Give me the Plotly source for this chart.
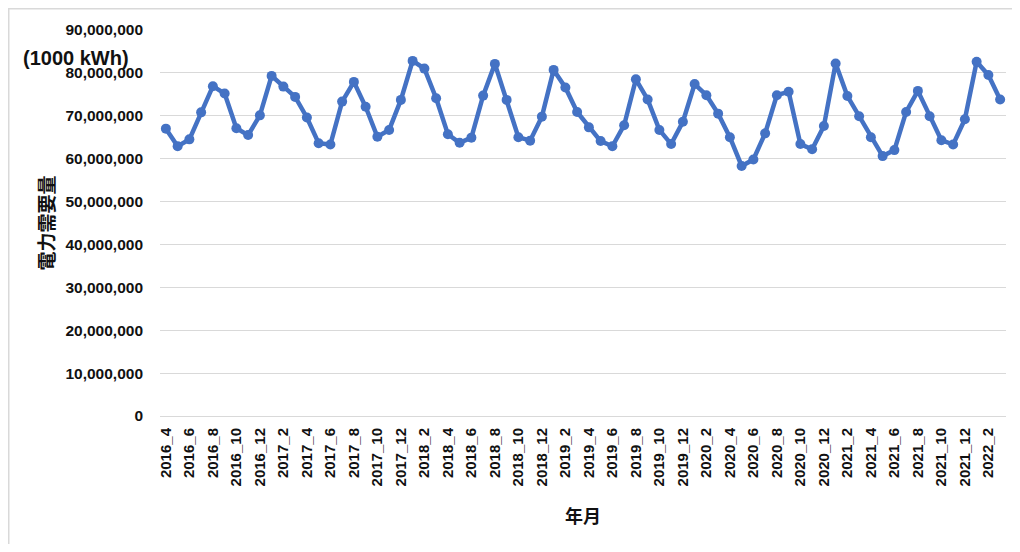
import plotly.graph_objects as go

# Categories: year_month from 2016_4 to 2022_3
years = [2016] * 9 + [2017] * 12 + [2018] * 12 + [2019] * 12 + [2020] * 12 + [2021] * 12 + [2022] * 3
months = list(range(4, 13)) + list(range(1, 13)) * 5 + [1, 2, 3]
categories = [f"{y}_{m}" for y, m in zip(years, months)]

# Electricity demand (1000 kWh)
demand = [
    67.0, 62.9, 64.5, 70.8, 76.9, 75.2, 67.1, 65.5, 70.1,
    79.3, 76.8, 74.4, 69.6, 63.6, 63.3, 73.3, 77.9, 72.1, 65.1, 66.7, 73.7,
    82.8, 81.0, 74.1, 65.7, 63.7, 64.9, 74.7, 82.1, 73.7, 65.0, 64.2, 69.8,
    80.7, 76.6, 70.9, 67.3, 64.1, 62.9, 67.8, 78.5, 73.8, 66.7, 63.4, 68.6,
    77.4, 74.8, 70.5, 65.0, 58.3, 59.8, 65.9, 74.8, 75.6, 63.4, 62.2, 67.6,
    82.2, 74.6, 69.9, 65.0, 60.6, 62.0, 70.9, 75.8, 69.9, 64.3, 63.3, 69.2,
    82.6, 79.5, 73.8,
]
demand = [v * 1_000_000 for v in demand]

tick_labels = categories[::2]
y_ticks = list(range(0, 90_000_001, 10_000_000))

FONT = "Liberation Sans, Arial, sans-serif"
CJK = "Noto Sans CJK JP, sans-serif"
BLUE = "#4472C4"

fig = go.Figure()
fig.add_trace(go.Scatter(
    x=categories, y=demand, mode="lines+markers",
    line=dict(color=BLUE, width=4.5),
    marker=dict(color=BLUE, size=10),
    showlegend=False,
))

# figure is placed at an 8px page offset
W, H = 1004, 536
L, T = 152, 22
R = W - 998
B = H - 408
pw, ph = W - L - R, H - T - B

def px_x(x):
    return (x - L) / pw

def px_y(y):
    return (H - B - y) / ph

fig.update_layout(
    width=W, height=H,
    margin=dict(l=L, r=R, t=T, b=B),
    paper_bgcolor="white", plot_bgcolor="white",
    xaxis=dict(
        type="category",
        tickmode="array", tickvals=tick_labels, ticktext=tick_labels,
        tickangle=-90,
        tickfont=dict(family=FONT, size=15, color="#111111", weight="bold"),
        ticklabelstandoff=8,
        showgrid=False, showline=False, zeroline=False, ticks="",
        title=dict(text="年月", font=dict(family=CJK, size=18, color="#111111", weight="bold"), standoff=24),
        range=[-0.5, len(categories) - 0.5],
    ),
    yaxis=dict(
        range=[0, 90_000_000],
        tickmode="array", tickvals=y_ticks,
        tickformat=",d",
        tickfont=dict(family=FONT, size=15.5, color="#111111", weight="bold"),
        ticklabelstandoff=16,
        showgrid=True, gridcolor="#d9d9d9", gridwidth=1.3,
        zeroline=True, zerolinecolor="#d9d9d9", zerolinewidth=1.3,
        showline=False, ticks="",
        title=dict(text="電力需要量", font=dict(family=CJK, size=19, color="#111111", weight="bold"), standoff=5),
    ),
    annotations=[
        dict(text="(1000 kWh)", xref="paper", yref="paper",
             x=px_x(13), y=px_y(50), xanchor="left", yanchor="middle",
             showarrow=False,
             font=dict(family=FONT, size=20, color="#111111", weight="bold")),
    ],
    shapes=[
        dict(type="line", xref="paper", yref="paper",
             x0=px_x(0), x1=px_x(W), y0=px_y(0.75), y1=px_y(0.75),
             line=dict(color="#d9d9d9", width=1.5)),
        dict(type="line", xref="paper", yref="paper",
             x0=px_x(0.75), x1=px_x(0.75), y0=px_y(0), y1=px_y(H),
             line=dict(color="#d9d9d9", width=1.5)),
    ],
)

fig.write_html("out.html")
